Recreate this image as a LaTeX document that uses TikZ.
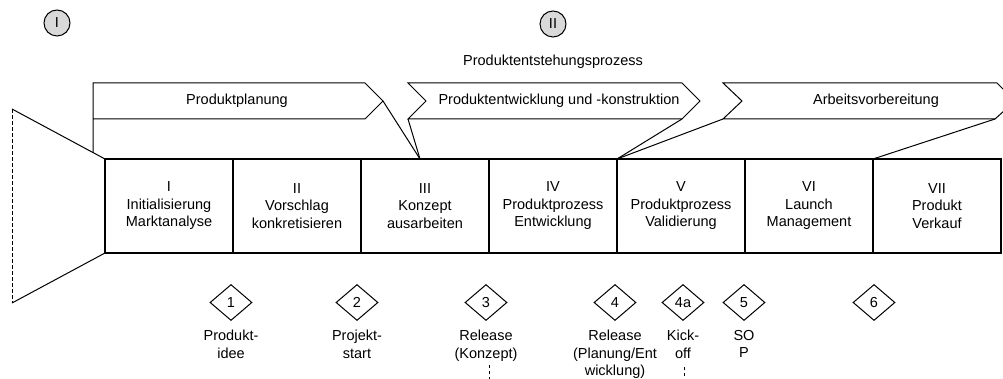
\documentclass[tikz,border=0pt]{standalone}
\usepackage{fontspec}
\setmainfont{Liberation Sans}
\usetikzlibrary{shapes.geometric, positioning}
\definecolor{stagegray}{RGB}{217,217,217}
\tikzstyle{phase} = [rectangle, draw, line width=1.1pt, minimum width=128pt, minimum height=94pt, text centered, align=center, inner sep=0, outer sep=0]
\tikzstyle{gate} = [diamond, draw, line width=1pt, minimum width=42pt, minimum height=36pt, inner sep=0]
\tikzstyle{stage} = [circle, draw, line width=1pt, fill=stagegray, minimum size=26pt, inner sep=0]
\tikzstyle{note} = [align=center, inner sep=0]
\tikzstyle{chev} = [draw, line width=1pt, line join=miter]
\tikzstyle{line} = [draw, line width=1pt]
\tikzstyle{stub} = [draw, line width=1pt, dash pattern=on 3pt off 3pt]

\begin{document}
\begin{tikzpicture}[x=1pt, y=-1pt, node distance=0pt, font=\fontsize{14.5}{17.5}\selectfont]
\useasboundingbox (0,0) rectangle (1003,379);
\clip (0,0) rectangle (1003,379);

\node [stage] (s1) at (57,23) {I};
\node [stage] (s2) at (553,24) {II};
\node (pep) at (553,62) {Produktentstehungsprozess};

% process steps
\node [phase] (p1) at (169,206) {I\\Initialisierung\\Marktanalyse};
\node [phase, right=of p1] (p2) {II\\Vorschlag\\konkretisieren};
\node [phase, right=of p2] (p3) {III\\Konzept\\ausarbeiten};
\node [phase, right=of p3] (p4) {IV\\Produktprozess\\Entwicklung};
\node [phase, right=of p4] (p5) {V\\Produktprozess\\Validierung};
\node [phase, right=of p5] (p6) {VI\\Launch\\Management};
\node [phase, right=of p6] (p7) {VII\\Produkt\\Verkauf};

% funnel
\coordinate (f1) at (12,109);
\coordinate (f2) at (12,303);
\path [line] (p1.north west) -- (f1);
\path [stub, dash pattern=on 4pt off 2pt] (f1) -- (f2);
\path [line] (f2) -- (p1.south west);

% phase arrows
\node (plan) at (237,101) {Produktplanung};
\node (dev) at (559,101) {Produktentwicklung und -konstruktion};
\node (prep) at (876,101) {Arbeitsvorbereitung};
\path [chev] (93,153) -- (93,83) -- (365,83) -- (383,101) coordinate (t1) -- (365,119) -- (93,119);
\path [chev] (408,83) -- (682,83) -- (700,101) -- (682,119) coordinate (b2) -- (408,119) coordinate (a2) -- (426,101) -- cycle;
\path [chev] (723,83) -- (997,83) -- (1015,101) -- (995,119) coordinate (b3) -- (723,119) coordinate (a3) -- (742,101) -- cycle;

\coordinate (j1) at (420,159);
\path [line] (t1) -- (j1);
\path [line] (a2) -- (j1);
\path [line] (b2) -- (p5.north west);
\path [line] (a3) -- (p5.north west);
\path [line] (b3) -- (p7.north west);

% milestones
\node [gate, below=31pt of p1.south east, xshift=-2pt] (g1) {1};
\node [gate, below=31pt of p2.south east, xshift=-4pt] (g2) {2};
\node [gate, below=31pt of p3.south east, xshift=-3pt] (g3) {3};
\node [gate, below=31pt of p4.south east, xshift=-2pt] (g4) {4};
\node [gate, right=25pt of g4] (g4a) {4a};
\node [gate, below=31pt of p5.south east, xshift=-1pt] (g5) {5};
\node [gate, below=31pt of p6.south east, xshift=1pt] (g6) {6};

\node [note, below=9pt of g1] (n1) {Produkt-\\idee};
\node [note, below=9pt of g2] (n2) {Projekt-\\start};
\node [note, below=9pt of g3] (n3) {Release\\(Konzept)};
\node [note, below=9pt of g4] (n4) {Release\\(Planung/Ent\\wicklung)};
\node [note, below=9pt of g4a] (n4a) {Kick-\\off};
\node [note, below=9pt of g5] (n5) {SO\\P};

\coordinate (d3) at (489,365);
\coordinate (d4a) at (684,367);
\path [stub] (d3) -- ++(0,14);
\path [stub] (d4a) -- ++(0,12);

\end{tikzpicture}
\end{document}
